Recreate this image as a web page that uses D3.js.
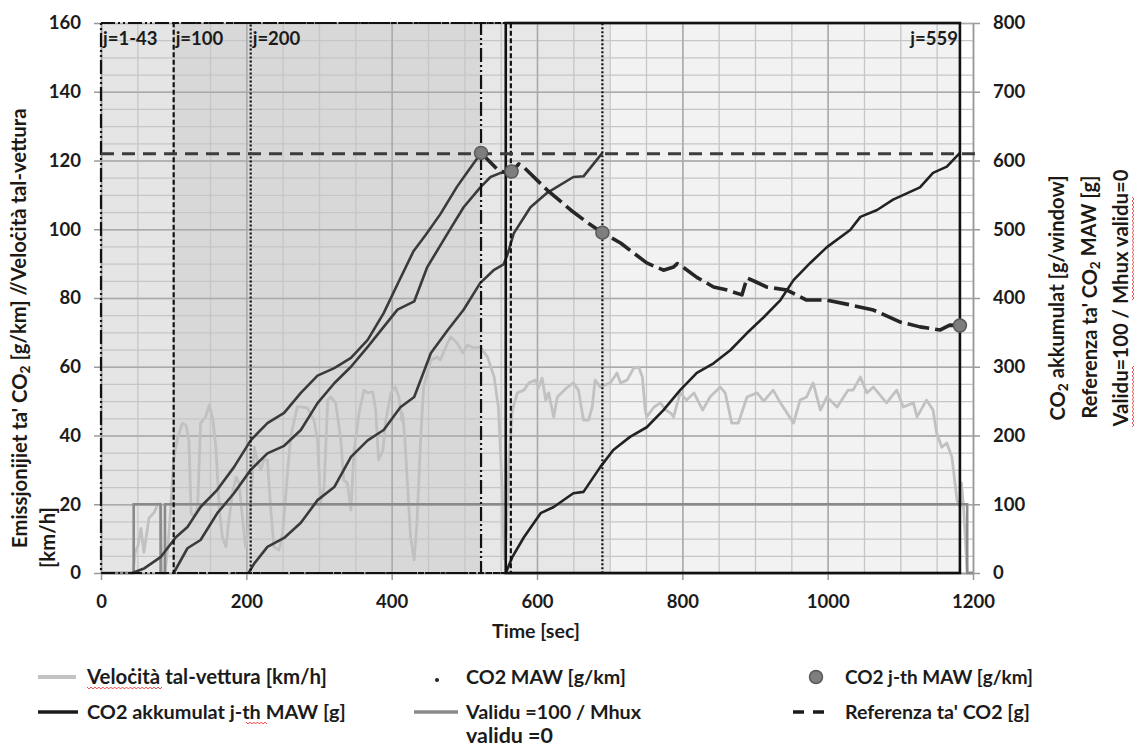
<!DOCTYPE html>
<html>
<head>
<meta charset="utf-8">
<script src="https://cdn.jsdelivr.net/npm/d3@7"></script>
<style>
  body { margin: 0; background: #fff; }
  svg { display: block; font-family: Lato, "Open Sans", sans-serif; font-weight: bold; }
</style>
</head>
<body>
<svg id="chart" width="1136" height="747"></svg>
<script>
// ---- data (time in sec) ----
const xTicks = [0, 200, 400, 600, 800, 1000, 1200];
const yLeftTicks = [0, 20, 40, 60, 80, 100, 120, 140, 160];
const yRightTicks = [0, 100, 200, 300, 400, 500, 600, 700, 800];

// vehicle speed [km/h]
const speedPts = [[0,0],[44,0],[47,6],[51,8],[55,13],[59,6],[64,13],[66,16],[73,17.5],[78,20],[82,20],[84,0],[88,0],
  [92,7.6],[96,19],[100,33],[105,39],[112,43.6],[117,43],[121,38.7],[124,17.5],[128,16.3],[133,19.2],[137,43.6],
  [144,45.4],[149,48.9],[154,44.5],[158,36.6],[163,18.3],[167,10.5],[172,7.6],[176,15.4],[181,23.3],[186,27.9],
  [190,26.2],[195,15.4],[199,7.6],[204,14.5],[211,36.6],[215,32.9],[220,30],[224,32.9],[229,32.9],[234,17.5],
  [238,7.6],[245,6.7],[250,11.6],[257,30],[261,39.6],[270,48.3],[275,48.3],[284,48],[293,44.5],[298,38.7],
  [302,20.4],[307,25],[312,50.3],[316,51.2],[323,49.5],[330,38.7],[334,27],[339,26.2],[344,18.3],[348,34.9],
  [355,46.5],[362,53.2],[367,52.4],[374,52.7],[378,47.4],[382,32.9],[388,35.8],[392,44.5],[399,52.4],[405,54.1],
  [410,51.2],[414,44.5],[415,46.5],[418,39.6],[422,25],[426,10.5],[431,3.8],[435,15.4],[440,39.6],[444,54.1],
  [454,62],[463,62.8],[467,62],[477,66.9],[481,68.7],[490,66.9],[498,64],[504,66.3],[513,65.5],[522,65.7],
  [532,62.8],[541,57],[547,48],[552,25],[555,4],[558,12],[561,31],[566,47.4],[573,52.4],[582,53.2],[589,55.3],
  [598,56.1],[602,53.8],[607,56.7],[612,50.3],[616,52.4],[623,45.4],[628,51.2],[642,54.1],[650,55.3],[657,53.2],
  [664,44.5],[671,44.5],[676,48.3],[680,56.1],[687,54.1],[701,55.3],[710,58.2],[715,55.3],[724,56.1],[733,59.6],
  [740,59.9],[745,57],[749,47.4],[751,45.4],[761,48.3],[770,49.5],[777,47.4],[784,46.5],[788,45.4],[797,52.4],
  [806,50.3],[816,52.4],[828,47.4],[838,51.2],[852,54.1],[859,52.4],[868,43.6],[877,43.6],[889,51.2],[903,52.4],
  [912,50],[925,53.2],[935,49.5],[953,43.6],[962,50.3],[971,51.2],[980,55.3],[990,47.4],[999,51.2],[1013,48.3],
  [1022,51.2],[1028,53.2],[1035,53.2],[1045,57],[1054,52.4],[1063,54.1],[1081,49.5],[1095,53.2],[1104,48.3],
  [1118,49.5],[1123,45.4],[1136,50.3],[1145,47.4],[1150,40.7],[1157,36.6],[1164,37.8],[1171,33.7],[1178,21.2],
  [1182,19.2],[1184,26.2],[1187,19.2],[1192,0],[1200,0]];

// valid = 100 / not valid = 0 (right axis)
const validPts = [[0,0],[45,0],[45,100],[82,100],[82,0],[88,0],[88,100],[1192,100],[1192,0],[1200,0]];

// CO2 accumulated per window [g] (right axis)
const accJ1 = [[43,0],[60,7],[82,23],[103,52],[119,67],[137,96],[160,121],[183,154],[206,193],[229,218],[252,233],
  [275,262],[298,287],[321,298],[344,313],[367,339],[389,378],[408,420],[430,468],[447,492],[467,522],[490,562],
  [504,583],[523,611]];
const accJ100 = [[100,0],[119,36],[137,48],[160,87],[183,116],[206,150],[229,174],[252,185],[275,208],[298,247],
  [321,276],[344,300],[367,329],[389,358],[408,383],[431,395],[449,445],[477,494],[499,532],[522,561],[536,576],
  [550,582],[565,584]];
const accJ200 = [[203,0],[211,14],[229,38],[252,51],[275,73],[298,106],[321,125],[344,169],[367,193],[389,208],
  [412,241],[431,256],[454,320],[477,353],[499,383],[522,422],[541,441],[554,449],[559,462],[568,494],[591,532],
  [614,553],[650,576],[664,577],[690,611]];
const accJ559 = [[557,0],[566,23],[582,52],[605,87],[623,96],[650,116],[664,118],[687,154],[705,179],[728,198],
  [751,212],[774,237],[797,266],[820,291],[843,305],[866,324],[889,349],[912,372],[935,397],[953,426],[976,451],
  [999,474],[1031,499],[1045,518],[1068,528],[1090,543],[1127,561],[1145,582],[1164,591],[1182,611]];

// CO2 moving average window [g/km] (left axis)
const mawPts = [[523,122.2],[545,117.5],[556,116.5],[565,116.8],[575,119],[582,118],[614,111.4],[650,105],
  [669,102],[690,99],[715,96],[751,90.2],[774,88.1],[788,89],[793,90],[797,89.6],[820,86],[843,83.2],[862,82.3],
  [882,80.9],[889,85.8],[900,84.8],[916,83.2],[944,82.3],[971,79.4],[999,79.4],[1031,78],[1063,76.5],[1100,73],
  [1127,71.6],[1155,70.7],[1168,72.1],[1182,72]];

// j-th window MAW points
const jthT = [523, 565, 690, 1182];
const jthV = [122.2, 116.8, 99, 72];

// reference CO2 [g]
const refCO2 = 610;

// windows
const windowLabels = ["j=1-43", "j=100", "j=200", "j=559"];
const windowStart = [0, 100, 206, 557];
const windowEnd = [523, 564, 690, 1182];
const shadeEdges = [0, 100, 523, 700, 1182];

const legendLabels = ["Veloċità tal-vettura [km/h]", "CO2 MAW [g/km]", "CO2 j-th MAW [g/km]",
  "CO2 akkumulat j-th MAW [g]", "Validu =100 / Mhux", "Referenza ta' CO2 [g]"];

// ---- drawing ----
const svg = d3.select("#chart");
const x = d3.scaleLinear().domain([0, 1200]).range([101, 973]);
const yL = d3.scaleLinear().domain([0, 160]).range([573, 23]);
const yR = d3.scaleLinear().domain([0, 800]).range([573, 23]);
const pLeft = x(0), pRight = x(1200), pTop = yL(160), pBottom = yL(0);
const ink = "#1b1b1b";

function fitWidth(t, w) {
  const fs = parseFloat(t.attr("font-size"));
  const len = t.node().getComputedTextLength();
  t.attr("font-size", (fs * w / len).toFixed(2));
}

function squiggle(x0, y0, x1, y1) {
  const n = Math.round(Math.hypot(x1 - x0, y1 - y0) / 2);
  const ux = (x1 - x0) / n, uy = (y1 - y0) / n;
  const l = Math.hypot(ux, uy), px = -uy / l, py = ux / l;
  const pts = d3.range(n + 1).map(i => [x0 + ux * i + px * (i % 2 ? 1 : -1), y0 + uy * i + py * (i % 2 ? 1 : -1)]);
  svg.append("path").attr("d", d3.line()(pts)).attr("fill", "none").attr("stroke", "#e33").attr("stroke-width", 0.9);
}

// shaded bands
const shadeFills = ["#e5e5e5", "#d8d8d8", "#e7e7e7", "#f2f2f2"];
svg.append("g").selectAll("rect").data(d3.pairs(shadeEdges)).join("rect")
  .attr("x", d => x(d[0])).attr("width", d => x(d[1]) - x(d[0]))
  .attr("y", pTop).attr("height", pBottom - pTop)
  .attr("fill", (d, i) => shadeFills[i]);

// grid lines
function grid(axis, tx, ty, color, w) {
  const g = svg.append("g").attr("transform", `translate(${tx},${ty})`).call(axis);
  g.select(".domain").remove();
  g.selectAll("line").attr("stroke", color).attr("stroke-width", w);
}
grid(d3.axisLeft(yL).tickValues(d3.range(0, 161, 5)).tickSize(-(pRight - pLeft)).tickFormat(""), pLeft, 0, "#c6c6c6", 1.3);
grid(d3.axisBottom(x).tickValues(d3.range(0, 1201, 50)).tickSize(-(pBottom - pTop)).tickFormat(""), 0, pBottom, "#c6c6c6", 1.3);
grid(d3.axisLeft(yL).tickValues(yLeftTicks).tickSize(-(pRight - pLeft)).tickFormat(""), pLeft, 0, "#aaaaaa", 1.5);
grid(d3.axisBottom(x).tickValues(xTicks).tickSize(-(pBottom - pTop)).tickFormat(""), 0, pBottom, "#aaaaaa", 1.5);

// axes
function styleAxis(g) {
  g.select(".domain").attr("stroke", "#9a9a9a").attr("stroke-width", 1.5);
  g.selectAll(".tick line").attr("stroke", "#9a9a9a").attr("stroke-width", 1.5);
  g.selectAll(".tick text").attr("font-size", 18.5).attr("font-weight", "bold")
    .attr("font-family", "Lato, sans-serif").attr("fill", ink);
}
const plain = d3.format("d");
svg.append("g").attr("transform", `translate(${pLeft},0)`)
  .call(d3.axisLeft(yL).tickValues(yLeftTicks).tickFormat(plain).tickSize(7).tickSizeOuter(0).tickPadding(13))
  .call(styleAxis);
svg.append("g").attr("transform", `translate(${pRight},0)`)
  .call(d3.axisRight(yR).tickValues(yRightTicks).tickFormat(plain).tickSize(7).tickSizeOuter(0).tickPadding(13))
  .call(styleAxis);
svg.append("g").attr("transform", `translate(0,${pBottom})`)
  .call(d3.axisBottom(x).tickValues(xTicks).tickFormat(plain).tickSize(7).tickSizeOuter(0).tickPadding(15))
  .call(styleAxis);

// speed
const lineL = d3.line().x(d => x(d[0])).y(d => yL(d[1]));
const lineR = d3.line().x(d => x(d[0])).y(d => yR(d[1]));
svg.append("path").attr("d", lineL(speedPts)).attr("fill", "none")
  .attr("stroke", "#c1c1c1").attr("stroke-width", 2.8).attr("stroke-linejoin", "round");

// validity
svg.append("path").attr("d", lineR(validPts)).attr("fill", "none")
  .attr("stroke", "#8a8a8a").attr("stroke-width", 2.6);

// accumulated CO2 per window
svg.append("g").selectAll("path").data([accJ1, accJ100, accJ200, accJ559]).join("path")
  .attr("d", d => lineR(d)).attr("fill", "none")
  .attr("stroke", (d, i) => i === 3 ? "#222" : "#3a3a3a").attr("stroke-width", 2.6).attr("stroke-linejoin", "round");

// window frames
const winDash = ["14,3,2,3,2,3", "5,2.5", "2,2", null];
svg.append("g").selectAll("rect").data(windowStart).join("rect")
  .attr("x", (d, i) => x(d)).attr("width", (d, i) => x(windowEnd[i]) - x(d))
  .attr("y", pTop).attr("height", pBottom - pTop)
  .attr("fill", "none").attr("stroke", "#111")
  .attr("stroke-width", (d, i) => i === 3 ? 2.6 : 2.2)
  .attr("stroke-dasharray", (d, i) => winDash[i]);

svg.append("g").selectAll("text").data(windowLabels).join("text")
  .attr("x", (d, i) => i === 3 ? x(windowEnd[i]) - 2 : x(windowStart[i]) + 2)
  .attr("y", 45)
  .attr("text-anchor", (d, i) => i === 3 ? "end" : "start")
  .attr("font-size", 18.5).attr("fill", ink).text(d => d);

// reference line
svg.append("line").attr("x1", pLeft).attr("x2", pRight + 3)
  .attr("y1", yR(refCO2)).attr("y2", yR(refCO2))
  .attr("stroke", "#3c3c3c").attr("stroke-width", 3).attr("stroke-dasharray", "13,8");

// MAW trace
svg.append("path").attr("d", lineL(mawPts)).attr("fill", "none")
  .attr("stroke", "#262626").attr("stroke-width", 3.6).attr("stroke-dasharray", "22,6")
  .attr("stroke-linejoin", "round");

// j-th MAW markers
svg.append("g").selectAll("circle").data(jthT).join("circle")
  .attr("cx", d => x(d)).attr("cy", (d, i) => yL(jthV[i])).attr("r", 6.5)
  .attr("fill", "#7e7e7e").attr("stroke", "#5a5a5a").attr("stroke-width", 1.5);

// axis titles
function rotText(tx, ty, anchor, parts) {
  const t = svg.append("text").attr("transform", `translate(${tx},${ty}) rotate(-90)`)
    .attr("text-anchor", anchor).attr("font-size", 18).attr("fill", "#1d1a15");
  parts.forEach(p => {
    const s = t.append("tspan").text(p[0]);
    if (p[1] === "sub") s.attr("font-size", "0.68em").attr("dy", "0.22em");
    if (p[1] === "back") s.attr("dy", "-0.22em");
  });
  return t;
}
const lt1 = rotText(27, 548, "start", [["Emissjonijiet ta' CO"], ["2", "sub"], [" [g/km] //Veloċità tal-vettura", "back"]]);
fitWidth(lt1, 440);
rotText(55, 568, "start", [["[km/h]"]]).attr("font-size", lt1.attr("font-size"));

fitWidth(rotText(1065, 298, "middle", [["CO"], ["2", "sub"], [" akkumulat [g/window]", "back"]]), 245);
fitWidth(rotText(1097, 297, "middle", [["Referenza ta' CO"], ["2", "sub"], [" MAW [g]", "back"]]), 243);
fitWidth(rotText(1128, 298, "middle", [["Validu=100 / Mhux validu=0"]]), 257);
squiggle(1133, 427, 1133, 366);
squiggle(1133, 300, 1133, 197);

const xt = svg.append("text").attr("x", 536).attr("y", 638).attr("text-anchor", "middle")
  .attr("font-size", 19).attr("fill", ink).text("Time [sec]");
fitWidth(xt, 88);

// legend
const legX = [87, 466, 845, 87, 466, 845];
const legY = [677, 677, 677, 712, 712, 712];
const legW = [240, 160, 188, 259, 175, 185];
const leg = svg.append("g");
legendLabels.forEach((lab, i) => {
  const t = leg.append("text").attr("x", legX[i]).attr("y", legY[i] + 7)
    .attr("font-size", 19).attr("fill", ink).text(lab);
  fitWidth(t, legW[i]);
});
const vt = leg.append("text").attr("x", 466).attr("y", 743).attr("font-size", 19).attr("fill", ink).text("validu =0");
fitWidth(vt, 87);

leg.append("line").attr("x1", 38).attr("x2", 76).attr("y1", 677).attr("y2", 677)
  .attr("stroke", "#c3c3c3").attr("stroke-width", 4);
leg.append("circle").attr("cx", 437).attr("cy", 680).attr("r", 2).attr("fill", "#222");
leg.append("circle").attr("cx", 816).attr("cy", 677).attr("r", 6.5)
  .attr("fill", "#7e7e7e").attr("stroke", "#5a5a5a").attr("stroke-width", 1.5);
leg.append("line").attr("x1", 38).attr("x2", 78).attr("y1", 712).attr("y2", 712)
  .attr("stroke", "#1b1b1b").attr("stroke-width", 3.5);
leg.append("line").attr("x1", 414).attr("x2", 458).attr("y1", 712).attr("y2", 712)
  .attr("stroke", "#8a8a8a").attr("stroke-width", 3.5);
leg.append("line").attr("x1", 793).attr("x2", 830).attr("y1", 712).attr("y2", 712)
  .attr("stroke", "#1b1b1b").attr("stroke-width", 3.5).attr("stroke-dasharray", "11,9");
squiggle(87, 688, 162, 688);
squiggle(246, 723, 267, 723);
</script>
</body>
</html>
